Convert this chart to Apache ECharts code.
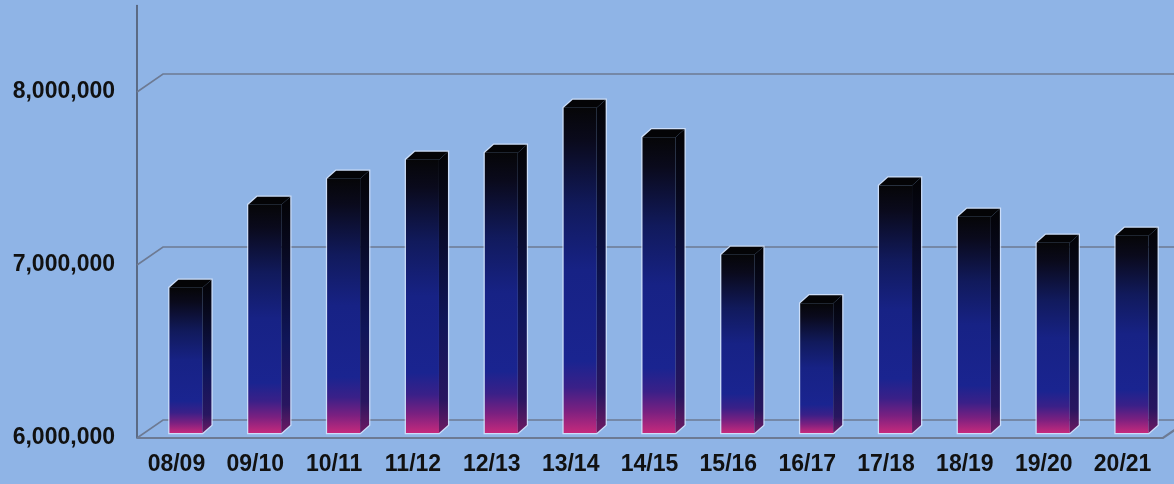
<!DOCTYPE html>
<html>
<head>
<meta charset="utf-8">
<style>
  html, body { margin: 0; padding: 0; background: #8fb4e6; }
  #chart { width: 1174px; height: 484px; }
</style>
<script src="https://cdn.jsdelivr.net/npm/echarts@6/dist/echarts.min.js"></script>
</head>
<body>
<div id="chart"></div>
<script>
// Season labels along the floor
const seasons = ['08/09', '09/10', '10/11', '11/12', '12/13', '13/14', '14/15',
                 '15/16', '16/17', '17/18', '18/19', '19/20', '20/21'];
// Yearly totals, one per season
const annualTotals = [6840000, 7320000, 7470000, 7580000, 7620000, 7880000, 7710000,
                      7030000, 6750000, 7430000, 7250000, 7100000, 7140000];
// Value ticks drawn on the wall
const yTicks = [6000000, 7000000, 8000000];
const Y_MIN = 6000000;
const Y_MAX = 8500000;
const Y_STEP = 1000000;

// Depth of the box (back wall offset from the front plane)
const WALL_DX = 26, WALL_DY = 18;
// Bar geometry in pixels
const BAR_SHIFT = -7, BAR_W = 33, BAR_DX = 9, BAR_DY = 8, BAR_SINK = 5;

const chart = echarts.init(document.getElementById('chart'));

function gridLines(params, api) {
  const v = api.value(1);
  const cs = params.coordSys;
  const y = api.coord([0, v])[1];
  const x = cs.x;
  const right = cs.x + cs.width;
  const lineStyle = { stroke: '#6d7a93', lineWidth: 1.6, fill: null };
  const children = [{
    type: 'polyline',
    shape: { points: [[x, y], [x + WALL_DX, y - WALL_DY], [1180, y - WALL_DY]] },
    style: lineStyle
  }];
  if (v === Y_MIN) {
    children.push({
      type: 'polyline',
      shape: { points: [[x, y], [right + 1, y], [right + 1 + WALL_DX, y - WALL_DY]] },
      style: { stroke: '#6d7a93', lineWidth: 2.2, fill: null }
    });
  }
  return { type: 'group', children };
}

function bar3d(params, api) {
  const i = api.value(0);
  const v = api.value(1);
  const top = api.coord([i, v]);
  const base = api.coord([i, Y_MIN]);
  const x0 = top[0] + BAR_SHIFT;
  const x1 = x0 + BAR_W;
  const yt = top[1] - BAR_SINK;
  const yb = base[1] - BAR_SINK;
  const front = new echarts.graphic.LinearGradient(0, 0, 0, 1, [
    { offset: 0, color: '#060608' },
    { offset: 0.1, color: '#0a0a1c' },
    { offset: 0.3, color: '#111a5c' },
    { offset: 0.5, color: '#172285' },
    { offset: 0.78, color: '#1a2490' },
    { offset: 0.86, color: '#3a2088' },
    { offset: 0.93, color: '#7a2080' },
    { offset: 1, color: '#c62a7c' }
  ]);
  const side = new echarts.graphic.LinearGradient(0, 0, 0, 1, [
    { offset: 0, color: '#030305' },
    { offset: 0.2, color: '#07081c' },
    { offset: 0.6, color: '#0f1558' },
    { offset: 0.88, color: '#281660' },
    { offset: 1, color: '#701a62' }
  ]);
  return {
    type: 'group',
    children: [
      {
        type: 'polygon',
        shape: { points: [[x0, yb], [x0, yt], [x0 + BAR_DX, yt - BAR_DY], [x1 + BAR_DX, yt - BAR_DY],
                          [x1 + BAR_DX, yb - BAR_DY], [x1, yb]] },
        style: { fill: null, stroke: 'rgba(225,236,255,0.75)', lineWidth: 2.5 }
      },
      {
        type: 'rect',
        shape: { x: x0, y: yt, width: BAR_W, height: yb - yt },
        style: { fill: front }
      },
      {
        type: 'polygon',
        shape: { points: [[x1, yt], [x1 + BAR_DX, yt - BAR_DY], [x1 + BAR_DX, yb - BAR_DY], [x1, yb]] },
        style: { fill: side }
      },
      {
        type: 'polygon',
        shape: { points: [[x0, yt], [x0 + BAR_DX, yt - BAR_DY], [x1 + BAR_DX, yt - BAR_DY], [x1, yt]] },
        style: { fill: '#040406' }
      }
    ]
  };
}

chart.setOption({
  backgroundColor: '#8fb4e6',
  animation: false,
  grid: { left: 137, right: 12, top: 5.5, bottom: 46, containLabel: false },
  xAxis: {
    type: 'category',
    data: seasons,
    boundaryGap: true,
    axisLine: { show: false },
    axisTick: { show: false },
    splitLine: { show: false },
    axisLabel: {
      margin: 15,
      fontFamily: 'Liberation Sans, Arial, sans-serif',
      fontWeight: 'bold',
      fontSize: 23,
      color: '#111111'
    }
  },
  yAxis: {
    type: 'value',
    min: Y_MIN,
    max: Y_MAX,
    interval: Y_STEP,
    axisLine: { show: true, lineStyle: { color: '#4e586c', width: 1.6 } },
    axisTick: { show: false },
    splitLine: { show: false },
    axisLabel: {
      margin: 22,
      fontFamily: 'Liberation Sans, Arial, sans-serif',
      fontWeight: 'bold',
      fontSize: 23,
      color: '#111111',
      formatter: (val) => yTicks.includes(val) ? val.toLocaleString('en-US') : ''
    }
  },
  series: [
    {
      type: 'custom',
      name: 'wall',
      z: 1,
      silent: true,
      renderItem: gridLines,
      encode: { x: 0, y: 1 },
      data: yTicks.map((t) => [0, t])
    },
    {
      type: 'custom',
      name: 'totals',
      z: 3,
      renderItem: bar3d,
      encode: { x: 0, y: 1 },
      data: annualTotals.map((v, i) => [i, v])
    }
  ]
});
</script>
</body>
</html>
